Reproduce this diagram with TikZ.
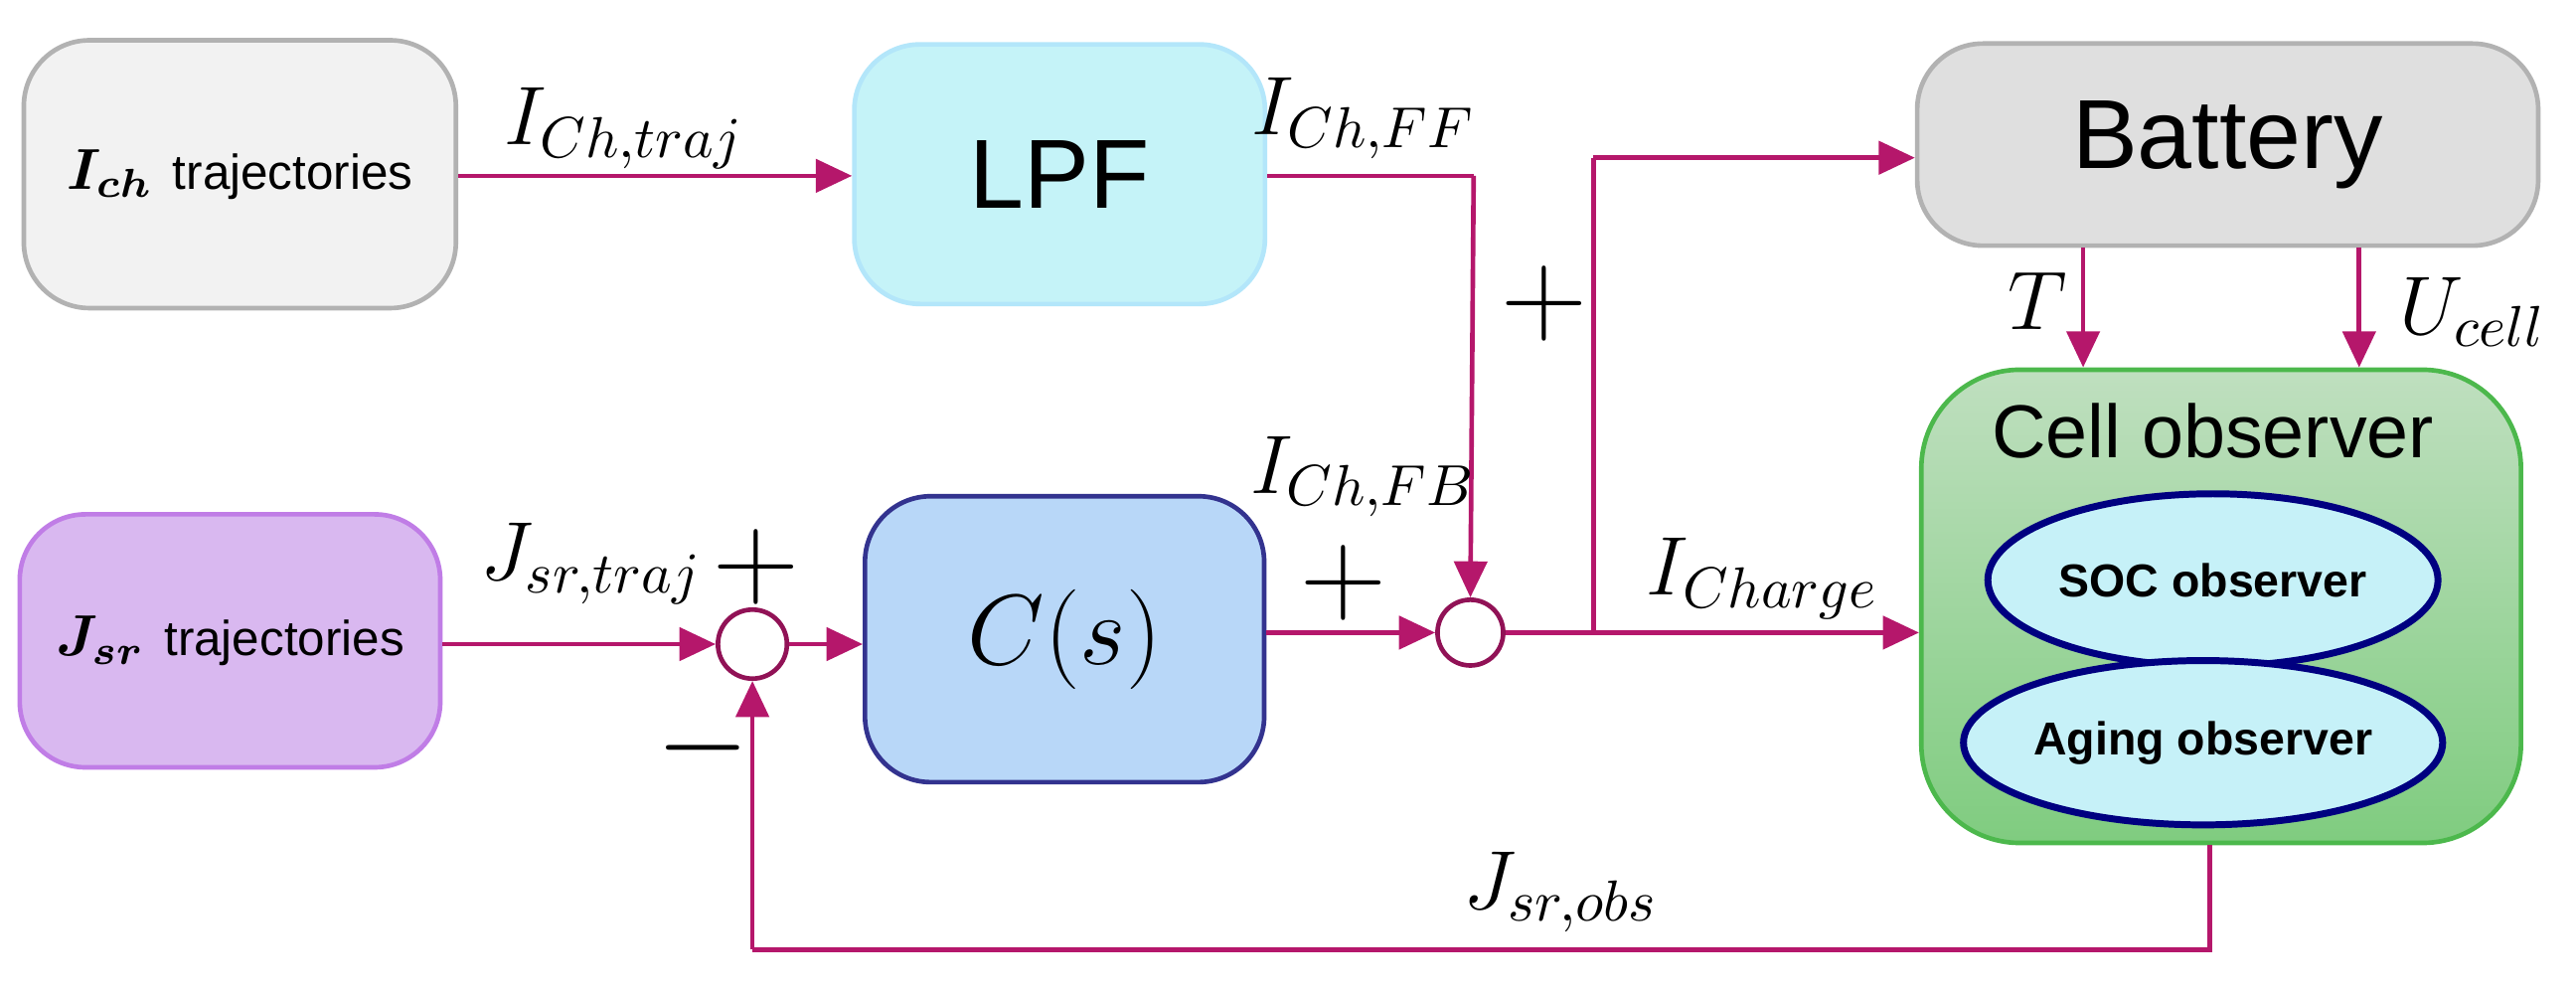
\documentclass[tikz,border=0pt]{standalone}
\usepackage{amsmath,bm}
\usepackage{fontspec}
\newfontfamily\lsans{Liberation Sans}
\usetikzlibrary{arrows.meta,shapes.geometric}
\definecolor{mag}{HTML}{B5176B}
\definecolor{lpfc}{HTML}{C5F3F8}
\definecolor{csc}{HTML}{B8D7F8}
\definecolor{jsrc}{HTML}{D9B8F0}
\definecolor{jsrb}{HTML}{C07DE6}
\definecolor{elc}{HTML}{C6F1F8}
\begin{document}
\begin{tikzpicture}[x=0.1mm,y=-0.1mm,
  blk/.style={rounded corners=4mm,line width=0.8pt,inner sep=0pt},
  wire/.style={mag,line width=0.8pt},
  arr/.style={wire,-{Triangle[length=2.2mm,width=2mm]}},
  lab/.style={font=\fontsize{14}{16}\selectfont},
  pm/.style={font=\fontsize{22}{24}\selectfont},
  el/.style={ellipse,draw=blue!50!black,line width=1.2pt,fill=elc,inner sep=0pt,font=\lsans\bfseries\fontsize{8}{10}\selectfont}]
\useasboundingbox (0,0) rectangle (1568,605);
\node[blk,draw=gray!60,fill=gray!10,minimum width=26.3mm,minimum height=16.3mm] (ich) at (146,106) {$\bm{I_{ch}}$ \lsans\fontsize{8.5}{10}\selectfont trajectories};
\node[blk,draw=cyan!30,fill=lpfc,minimum width=25mm,minimum height=15.8mm,font=\lsans\fontsize{17}{20}\selectfont] (lpf) at (645,106) {LPF};
\node[blk,draw=gray!60,fill=gray!25,minimum width=37.8mm,minimum height=12.3mm,font=\lsans\fontsize{17}{20}\selectfont] (bat) at (1356,88) {Battery};
\node[blk,draw=jsrb,fill=jsrc,minimum width=25.6mm,minimum height=15.4mm] (jsr) at (140,390) {$\bm{J_{sr}}$ \lsans\fontsize{8.5}{10}\selectfont trajectories};
\node[blk,draw=blue!45!black!80,fill=csc,minimum width=24.3mm,minimum height=17.4mm,font=\fontsize{17}{20}\selectfont] (cs) at (648,389) {$C(s)$};
\node[blk,rounded corners=6mm,draw=green!60!black!70,top color=green!50!black!25!white,bottom color=green!60!black!50!white,minimum width=36.5mm,minimum height=28.8mm] (obs) at (1352,369) {};
\node[font=\lsans\fontsize{13}{15}\selectfont] (obst) at (1347,262) {Cell observer};
\node[el,minimum width=27.4mm,minimum height=10.5mm] (soc) at (1347,353) {SOC observer};
\node[el,minimum width=26mm,minimum height=10mm] (age) at (1341,452) {Aging observer};
\node[circle,draw=mag!80!black,line width=0.8pt,fill=white,minimum size=4.2mm,inner sep=0pt] (s1) at (458,392) {};
\node[circle,draw=mag!80!black,line width=0.8pt,fill=white,minimum size=4mm,inner sep=0pt] (s2) at (895,385) {};
\coordinate (ffc) at (897,107);
\coordinate (br) at (970,385);
\coordinate (bt) at (970,96);
\coordinate (fb1) at (1345,578);
\coordinate (fb2) at (458,578);
\draw[arr] (ich.east |- 0,107) -- (lpf.west |- 0,107);
\draw[wire] (lpf.east |- 0,107) -- (ffc);
\draw[arr] (ffc) -- (s2.north);
\draw[arr] (jsr.east |- s1) -- (s1.west);
\draw[arr] (s1.east) -- (cs.west |- s1);
\draw[arr] (cs.east |- s2) -- (s2.west);
\draw[arr] (s2.east) -- (obs.west |- s2);
\draw[wire] (br) -- (bt);
\draw[arr] (bt) -- (bat.west |- bt);
\draw[arr] (bat.south -| 1268,0) -- (obs.north -| 1268,0);
\draw[arr] (bat.south -| 1436,0) -- (obs.north -| 1436,0);
\draw[wire] (obs.south -| fb1) -- (fb1) -- (fb2);
\draw[arr] (fb2) -- (s1.south);
\node[lab] (l1) at (380,78) {$I_{Ch,traj}$};
\node[lab] (l2) at (830,72) {$I_{Ch,FF}$};
\node[pm] (p1) at (940,185) {$+$};
\node[lab] (l3) at (830,290) {$I_{Ch,FB}$};
\node[pm] (p2) at (818,355) {$+$};
\node[lab] (l4) at (360,343) {$J_{sr,traj}$};
\node[pm] (p3) at (460,345) {$+$};
\node[pm] (m1) at (428,455) {$-$};
\node[lab] (l5) at (1073,352) {$I_{Charge}$};
\node[lab] (l6) at (1240,183) {$T$};
\node[lab] (l7) at (1505,190) {$U_{cell}$};
\node[lab] (l8) at (950,543) {$J_{sr,obs}$};
\end{tikzpicture}
\end{document}
